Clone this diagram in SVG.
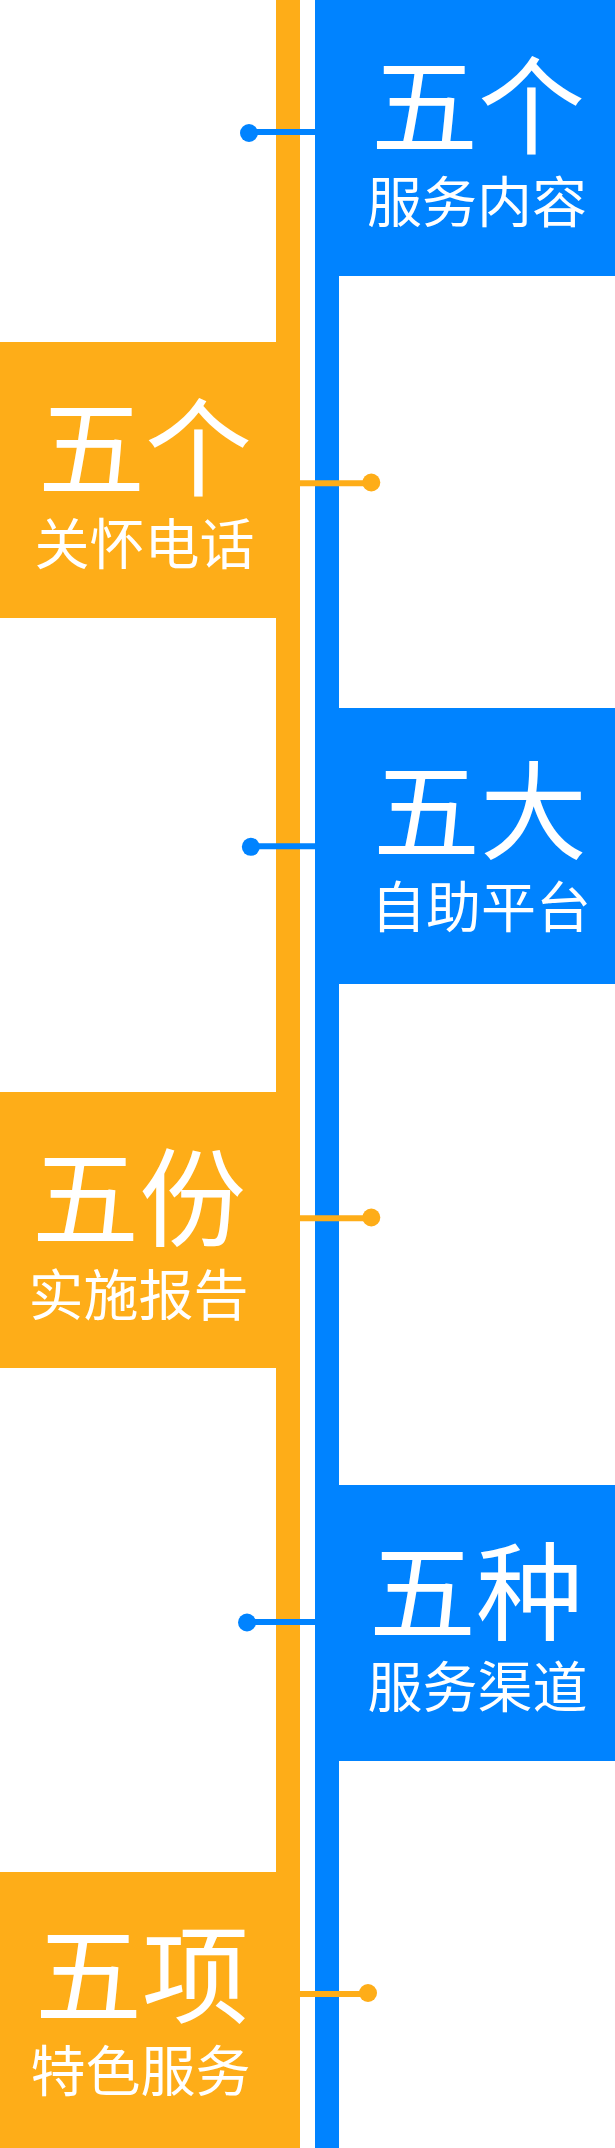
<svg xmlns="http://www.w3.org/2000/svg" width="615" height="2148" viewBox="0 0 615 2148">
<style>
.o{fill:#FEAD18}
.b{fill:#0083FF}
.t{font-family:"Noto Sans CJK SC","Noto Sans",sans-serif;fill:#FFFFFF;text-anchor:middle;font-weight:400}
.h{font-size:107px}
.s{font-size:55px}
.lb{stroke:#0083FF;stroke-width:6}
.lo{stroke:#FEAD18;stroke-width:6}
</style>
<rect width="615" height="2148" fill="#FFFFFF"/>
<g id="timeline">
<rect class="o" x="276" y="0" width="24" height="2148"/>
<rect class="b" x="315" y="0" width="24" height="2148"/>
</g>
<g id="node-fuwuneirong">
<rect class="b" x="315" y="0" width="300" height="276"/>
<text class="t h" x="478" y="146">五个</text>
<text class="t s" x="477" y="222">服务内容</text>
</g>
<g id="node-guanhuaidianhua">
<rect class="o" x="0" y="342" width="300" height="276"/>
<text class="t h" x="145" y="488">五个</text>
<text class="t s" x="144.5" y="564">关怀电话</text>
</g>
<g id="node-zizhupingtai">
<rect class="b" x="315" y="708" width="300" height="276"/>
<text class="t h" x="480" y="851">五大</text>
<text class="t s" x="481" y="927">自助平台</text>
</g>
<g id="node-shishibaogao">
<rect class="o" x="0" y="1092" width="300" height="276"/>
<text class="t h" x="139" y="1238">五份</text>
<text class="t s" x="138.5" y="1315">实施报告</text>
</g>
<g id="node-fuwuqudao">
<rect class="b" x="315" y="1485" width="300" height="276"/>
<text class="t h" x="476" y="1632">五种</text>
<text class="t s" x="477.5" y="1707">服务渠道</text>
</g>
<g id="node-teseFuwu">
<rect class="o" x="0" y="1872" width="300" height="276"/>
<text class="t h" x="142" y="2015">五项</text>
<text class="t s" x="140.5" y="2091">特色服务</text>
</g>
<g id="connectors">
<line class="lb" x1="249" y1="132" x2="315" y2="132"/>
<circle class="b" cx="249" cy="133" r="9"/>
<line class="lo" x1="300" y1="483.3" x2="371" y2="483.3"/>
<circle class="o" cx="371.3" cy="482.5" r="9"/>
<line class="lb" x1="251" y1="846.3" x2="315" y2="846.3"/>
<circle class="b" cx="250.8" cy="846.8" r="9"/>
<line class="lo" x1="300" y1="1218.3" x2="371" y2="1218.3"/>
<circle class="o" cx="371.3" cy="1217.5" r="9"/>
<line class="lb" x1="247" y1="1622" x2="315" y2="1622"/>
<circle class="b" cx="247" cy="1622.5" r="9"/>
<line class="lo" x1="300" y1="1994" x2="368" y2="1994"/>
<circle class="o" cx="368" cy="1993" r="9"/>
</g>
</svg>
